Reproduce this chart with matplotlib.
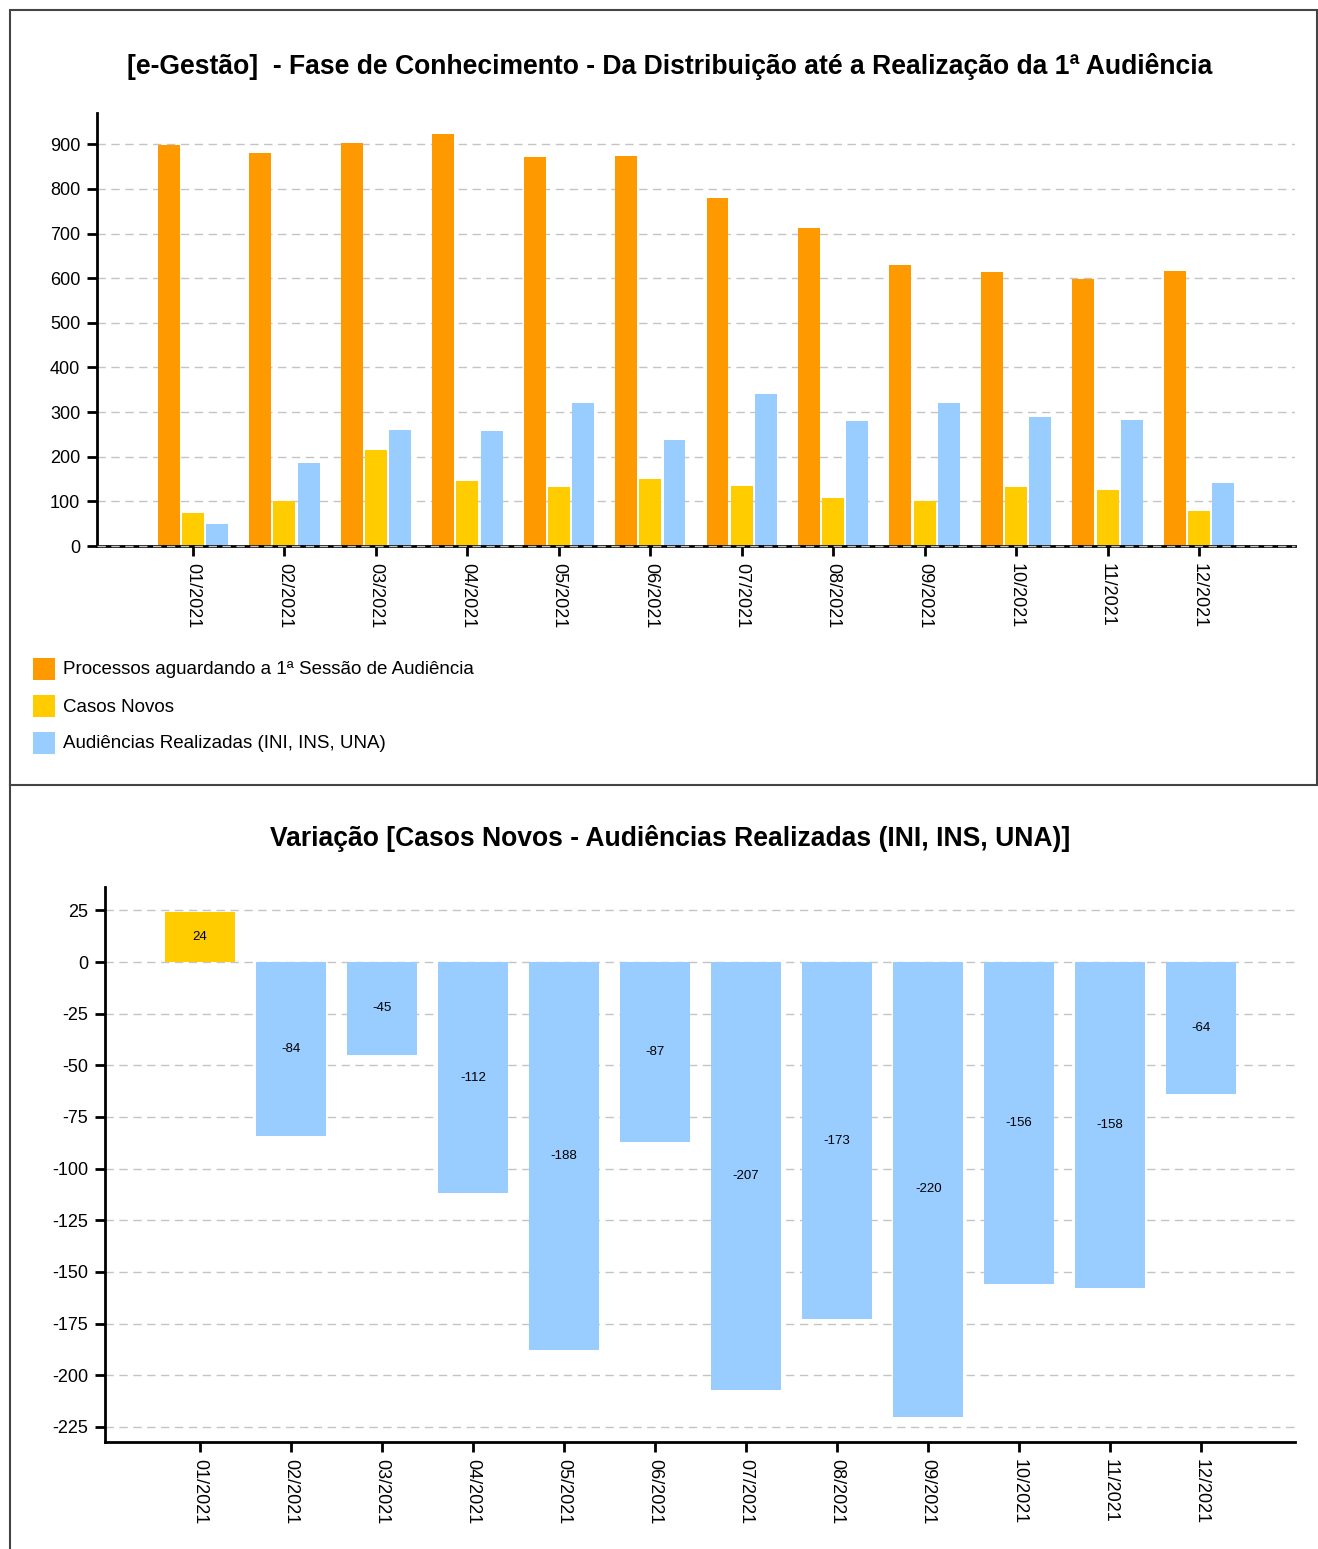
import matplotlib
matplotlib.use("Agg")
import matplotlib.pyplot as plt
from matplotlib.patches import Rectangle
from matplotlib.lines import Line2D
import numpy as np

plt.rcParams['font.family'] = ['Liberation Sans', 'DejaVu Sans']
plt.rcParams['axes.unicode_minus'] = False

meses = ["01/2021", "02/2021", "03/2021", "04/2021", "05/2021", "06/2021",
         "07/2021", "08/2021", "09/2021", "10/2021", "11/2021", "12/2021"]
aguardando = [898, 880, 902, 922, 871, 873, 779, 712, 629, 613, 598, 616]
casos_novos = [74, 101, 215, 146, 132, 150, 134, 107, 101, 132, 125, 78]
audiencias = [50, 185, 260, 258, 320, 237, 341, 280, 321, 288, 283, 142]
variacao = [c - a for c, a in zip(casos_novos, audiencias)]

serie_nomes = ["Processos aguardando a 1ª Sessão de Audiência",
               "Casos Novos",
               "Audiências Realizadas (INI, INS, UNA)"]
cor_laranja = "#FF9900"
cor_amarelo = "#FFCC00"
cor_azul = "#99CCFF"
cor_grade = "#c4c4c4"

W, H = 1318, 1549
fig = plt.figure(figsize=(W / 100, H / 100), dpi=100)


def px_axes(x0, y0, x1, y1):
    return fig.add_axes([x0 / W, 1 - y1 / H, (x1 - x0) / W, (y1 - y0) / H])


def style_axes(ax):
    for s in ("top", "right"):
        ax.spines[s].set_visible(False)
    for s in ("left", "bottom"):
        ax.spines[s].set_linewidth(2)
        ax.spines[s].set_color("black")
    ax.tick_params(axis="both", direction="out", length=7, width=2,
                   labelsize=13, colors="black")
    ax.tick_params(axis="y", pad=5)
    ax.tick_params(axis="x", pad=5)
    ax.yaxis.grid(True, color=cor_grade, linestyle=(0, (6, 4)), linewidth=1)
    ax.set_axisbelow(True)


# Panel frames
fig.add_artist(Rectangle((10 / W, 1 - 785 / H), (W - 11) / W, (785 - 10) / H,
                         transform=fig.transFigure, fill=False,
                         edgecolor="#444444", linewidth=1.5))
fig.add_artist(Line2D([10 / W, 10 / W], [0, 1 - 785 / H],
                      transform=fig.transFigure, color="#444444", linewidth=1.5))

# Top chart: grouped bars
ax1 = px_axes(97, 113, 1295, 546)
style_axes(ax1)
x = np.arange(len(meses))
off = 0.265
bw = 0.24
ax1.bar(x - off, aguardando, bw, color=cor_laranja, zorder=2)
ax1.bar(x, casos_novos, bw, color=cor_amarelo, zorder=2)
ax1.bar(x + off, audiencias, bw, color=cor_azul, zorder=2)
ax1.axhline(0, color=cor_grade, linestyle=(0, (6, 4)), linewidth=1, zorder=4,
            clip_on=False)
ax1.set_xlim(-1.05, 12.05)
ax1.set_ylim(0, 970)
ax1.set_yticks(range(0, 1000, 100))
ax1.set_xticks(x)
ax1.set_xticklabels(meses, rotation=270, va="top", ha="center")
fig.text(670 / W, 1 - 66 / H,
         "[e-Gestão]  - Fase de Conhecimento - Da Distribuição até a Realização da 1ª Audiência",
         fontsize=19.1, fontweight="bold", ha="center", va="center")

# Legend
for i, (nome, cor) in enumerate(zip(serie_nomes, [cor_laranja, cor_amarelo, cor_azul])):
    yc = 669 + 37 * i
    fig.add_artist(Rectangle((33 / W, 1 - (yc + 11) / H), 22 / W, 22 / H,
                             transform=fig.transFigure, facecolor=cor,
                             edgecolor="none"))
    fig.text(63 / W, 1 - (yc + 1) / H, nome, fontsize=13.5, ha="left", va="center")

# Bottom chart: variation
ax2 = px_axes(105, 887, 1295, 1442)
style_axes(ax2)
cores_var = [cor_amarelo if v >= 0 else cor_azul for v in variacao]
ax2.bar(x, variacao, 0.77, color=cores_var, zorder=2)
for xi, v in zip(x, variacao):
    ax2.text(xi, v / 2, str(v), ha="center", va="center", fontsize=9.5, zorder=3)
ax2.set_xlim(-1.044, 12.03)
ax2.set_ylim(-232.3, 36.3)
ax2.set_yticks(range(25, -250, -25))
ax2.set_xticks(x)
ax2.set_xticklabels(meses, rotation=270, va="top", ha="center")
fig.text(670 / W, 1 - 839 / H,
         "Variação [Casos Novos - Audiências Realizadas (INI, INS, UNA)]",
         fontsize=19.1, fontweight="bold", ha="center", va="center")

fig.savefig("out.png", dpi=100, facecolor="white")
